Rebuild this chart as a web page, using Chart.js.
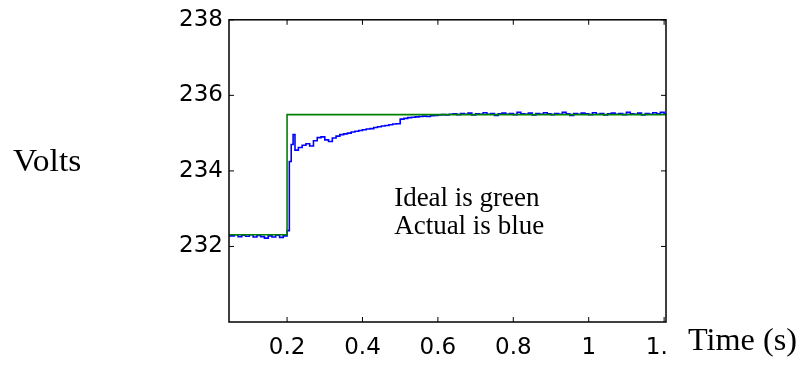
<!DOCTYPE html>
<html>
<head>
<meta charset="utf-8">
<script src="https://cdn.jsdelivr.net/npm/chart.js@4"></script>
<style>
  body { margin: 0; background: #fff; }
  canvas { display: block; }
</style>
</head>
<body>
<canvas id="voltChart" width="799" height="365"></canvas>
<script>
// ideal (green) step
const idealTime = [0.046, 0.2, 1.205];
const idealVolts = [232.31, 235.49, 235.49];

// actual (blue) response
const actualTime = [
  0.046, 0.06, 0.07, 0.08, 0.09, 0.10, 0.11, 0.12, 0.13, 0.14, 0.15, 0.16, 0.17, 0.18, 0.19,
  0.20, 0.206, 0.211, 0.216, 0.221,
  0.23, 0.24, 0.25, 0.26, 0.27, 0.28, 0.29, 0.30, 0.31, 0.32, 0.33, 0.34, 0.35, 0.36, 0.37, 0.38, 0.39,
  0.40, 0.41, 0.42, 0.43, 0.44, 0.45, 0.46, 0.47, 0.48, 0.49,
  0.50, 0.51, 0.52, 0.53, 0.54, 0.55, 0.56, 0.57, 0.58, 0.59,
  0.60, 0.61, 0.62, 0.63, 0.64, 0.65, 0.66, 0.67, 0.68, 0.69,
  0.70, 0.71, 0.72, 0.73, 0.74, 0.75, 0.76, 0.77, 0.78, 0.79,
  0.80, 0.81, 0.82, 0.83, 0.84, 0.85, 0.86, 0.87, 0.88, 0.89,
  0.90, 0.91, 0.92, 0.93, 0.94, 0.95, 0.96, 0.97, 0.98, 0.99,
  1.00, 1.01, 1.02, 1.03, 1.04, 1.05, 1.06, 1.07, 1.08, 1.09,
  1.10, 1.11, 1.12, 1.13, 1.14, 1.15, 1.16, 1.17, 1.18, 1.19, 1.20, 1.205
];
const actualVolts = [
  232.28, 232.31, 232.26, 232.30, 232.27, 232.31, 232.25, 232.29, 232.26, 232.22, 232.28, 232.25, 232.30, 232.24, 232.28,
  232.42, 234.25, 234.70, 234.96, 234.55,
  234.62, 234.68, 234.72, 234.66, 234.80, 234.88, 234.90, 234.82, 234.78, 234.87, 234.92, 234.96, 234.98, 235.00, 235.03, 235.05, 235.07,
  235.09, 235.11, 235.12, 235.15, 235.17, 235.19, 235.20, 235.22, 235.24, 235.25,
  235.37, 235.39, 235.41, 235.42, 235.43, 235.44, 235.45, 235.44, 235.46, 235.47,
  235.48, 235.49, 235.48, 235.50, 235.51, 235.49, 235.52, 235.50, 235.53, 235.48,
  235.51, 235.50, 235.54, 235.50, 235.52, 235.47, 235.51, 235.53, 235.50, 235.52,
  235.49, 235.55, 235.51, 235.50, 235.53, 235.48, 235.52, 235.50, 235.54, 235.51,
  235.49, 235.52, 235.50, 235.55, 235.51, 235.47, 235.52, 235.50, 235.53, 235.51,
  235.49, 235.54, 235.50, 235.52, 235.48, 235.51, 235.53, 235.50, 235.52, 235.49,
  235.55, 235.51, 235.50, 235.53, 235.48, 235.52, 235.50, 235.54, 235.51, 235.55, 235.50, 235.50
];

const xTicks = [0.2, 0.4, 0.6, 0.8, 1.0, 1.2];
const yTicks = [232, 234, 236, 238];
const noteLines = ["Ideal is green", "Actual is blue"];
const notePos = [[0.484, 233.07], [0.484, 232.34]];

const toPoints = (xs, ys) => xs.map((x, i) => ({ x: x, y: ys[i] }));

// draw text a little wider, like the stretched original figure
function wideText(ctx, text, x, y, sx) {
  ctx.save();
  ctx.translate(x, y);
  ctx.scale(sx, 1);
  ctx.fillText(text, 0, 0);
  ctx.restore();
}

// box + inward ticks, plus the free text
const frame = {
  id: "frame",
  afterDatasetsDraw(chart) {
    const ctx = chart.ctx;
    const a = chart.chartArea;
    const sx = chart.scales.x;
    const sy = chart.scales.y;
    ctx.save();
    ctx.strokeStyle = "#000";
    ctx.lineWidth = 1.5;
    ctx.strokeRect(a.left, a.top, a.right - a.left, a.bottom - a.top);
    ctx.beginPath();
    xTicks.forEach((v) => {
      const px = sx.getPixelForValue(v);
      ctx.moveTo(px, a.bottom); ctx.lineTo(px, a.bottom - 5);
      ctx.moveTo(px, a.top); ctx.lineTo(px, a.top + 5);
    });
    yTicks.forEach((v) => {
      const py = sy.getPixelForValue(v);
      ctx.moveTo(a.left, py); ctx.lineTo(a.left + 5, py);
      ctx.moveTo(a.right, py); ctx.lineTo(a.right - 5, py);
    });
    ctx.lineWidth = 1;
    ctx.stroke();

    ctx.fillStyle = "#000";
    ctx.font = "27px 'Liberation Serif'";
    ctx.textAlign = "left";
    ctx.textBaseline = "alphabetic";
    noteLines.forEach((t, i) => {
      ctx.fillText(t, sx.getPixelForValue(notePos[i][0]), sy.getPixelForValue(notePos[i][1]));
    });

    ctx.font = "31px 'Liberation Serif'";
    wideText(ctx, "Volts", 13, 171, 1.08);
    wideText(ctx, "Time (s)", 688, 350, 1.04);
    ctx.restore();
  },
};

const config = {
  type: "line",
  data: {
    datasets: [
      {
        label: "Ideal",
        data: toPoints(idealTime, idealVolts),
        borderColor: "#008000",
        borderWidth: 1.6,
        stepped: true,
        pointRadius: 0,
        order: 0,
      },
      {
        label: "Actual",
        data: toPoints(actualTime, actualVolts),
        borderColor: "#0000ff",
        borderWidth: 1.6,
        stepped: true,
        pointRadius: 0,
        order: 1,
      },
    ],
  },
  options: {
    responsive: false,
    animation: false,
    layout: { padding: { top: 15, right: 133, left: 0, bottom: 0 } },
    plugins: {
      legend: { display: false },
      tooltip: { enabled: false },
    },
    scales: {
      x: {
        type: "linear",
        min: 0.046,
        max: 1.205,
        grid: { display: false, drawTicks: false },
        border: { display: false },
        afterBuildTicks: (s) => { s.ticks = xTicks.map((v) => ({ value: v })); },
        afterFit: (s) => { s.height = 43; },
        ticks: {
          color: "#000",
          padding: 12,
          maxRotation: 0,
          autoSkip: false,
          font: { family: "'DejaVu Sans'", size: 23 },
          callback: (v) => (Math.abs(v - 1.2) < 1e-6 ? "1.  " : String(Math.round(v * 10) / 10)),
        },
      },
      y: {
        min: 230,
        max: 238,
        grid: { display: false, drawTicks: false },
        border: { display: false },
        afterBuildTicks: (s) => { s.ticks = yTicks.map((v) => ({ value: v })); },
        afterFit: (s) => { s.width = 229; },
        ticks: {
          color: "#000",
          padding: 6,
          autoSkip: false,
          font: { family: "'DejaVu Sans'", size: 23 },
        },
      },
    },
  },
  plugins: [frame],
};

let myChart = new Chart(document.getElementById("voltChart"), config);
</script>
</body>
</html>
